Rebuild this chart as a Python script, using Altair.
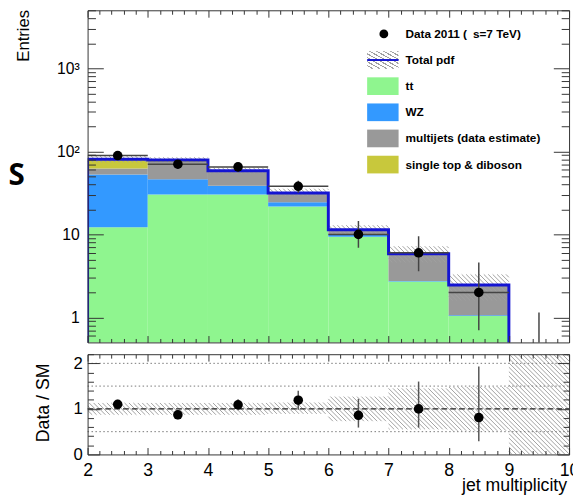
import math
import altair as alt
import pandas as pd

# ---------------- data ----------------
bin_lo = [2, 3, 4, 5, 6, 7, 8, 9]
bin_hi = [3, 4, 5, 6, 7, 8, 9, 10]
bin_mid = [2.5, 3.5, 4.5, 5.5, 6.5, 7.5, 8.5, 9.5]

components = ["tt", "WZ", "multijets (data estimate)", "single top & diboson"]
comp_colors = ["#8ff58f", "#3399ff", "#999999", "#c8c83c"]
tt = [12.2, 30.2, 30.2, 21.7, 9.4, 2.7, 1.04, 0]
wz = [40.6, 16.1, 8.3, 2.7, 0.7, 0.05, 0.02, 0]
multijets = [9.6, 28.0, 18.4, 6.3, 1.0, 3.0, 1.38, 0]
single_top = [18.0, 4.5, 1.5, 0.8, 0.3, 0.1, 0.02, 0]

data = [89, 70, 65, 38, 10, 6, 2, 0]
data_lo = [79.6, 61.6, 56.9, 31.8, 6.9, 3.6, 0.7, 0]
data_hi = [98.4, 78.4, 73.1, 44.2, 14.5, 9.5, 4.6, 1.15]

band_lo = [74, 74, 54, 29, 10.1, 4.6, 1.6]
band_hi = [88, 85, 64, 35.5, 12.9, 7.2, 3.3]

ratio = [1.10, 0.87, 1.09, 1.19, 0.86, 1.00, 0.81]
ratio_lo = [1.00, 0.77, 0.97, 0.98, 0.59, 0.59, 0.29]
ratio_hi = [1.20, 0.97, 1.21, 1.40, 1.22, 1.60, 1.93]
rband_lo = [0.87, 0.87, 0.87, 0.89, 0.73, 0.55, 0.52, 0.0]
rband_hi = [1.13, 1.13, 1.13, 1.14, 1.27, 1.45, 1.48, 2.2]
ratio_dotted = [0.5, 1.5, 2.0]
ratio_dashed = [1.0]

legend_labels = ["Data 2011 (\u2002s=7 TeV)", "Total pdf", "tt", "WZ",
                 "multijets (data estimate)", "single top & diboson"]

x_major = [2, 3, 4, 5, 6, 7, 8, 9, 10]
x_minor = [round(2 + 0.2 * i, 1) for i in range(41) if i % 5]
y_major = [1, 10, 100, 1000]
y_minor = [0.6, 0.7, 0.8, 0.9] + [m * d for d in (1, 10, 100) for m in range(2, 10)] + [2000, 3000, 4000, 5000]
r_major = [0, 1, 2]
r_minor = [0.2, 0.4, 0.6, 0.8, 1.2, 1.4, 1.6, 1.8, 2.2]

# ---------------- style ----------------
FLOOR = 0.1
FRAME = "#333333"
BLUE = "#1414d2"
HATCH = "#a0a0a0"
FONT = "Liberation Sans"
W, H1, H2 = 490, 338, 102
X0, X1 = 2, 10
Y0, Y1 = 0.5, 5000
R0, R1 = 0, 2.2
HATCH_STEP = 4.5

xs = alt.Scale(domain=[X0, X1], nice=False, zero=False)
ys = alt.Scale(type="log", domain=[Y0, Y1], nice=False)
rs = alt.Scale(domain=[R0, R1], nice=False, zero=False)


def hatch_gradient(n, color=HATCH, duty=0.3):
    stops = []
    for k in range(n):
        a, b, c = k / n, (k + 1 - duty) / n, (k + 1) / n
        stops += [{"offset": a, "color": "rgba(255,255,255,0)"},
                  {"offset": b, "color": "rgba(255,255,255,0)"},
                  {"offset": b, "color": color},
                  {"offset": c, "color": color}]
    return {"gradient": "linear", "x1": 0, "y1": 1, "x2": 1, "y2": 0, "stops": stops}


def hatch_segments(rects, v_of, y_of):
    """Diagonal hatch lines (top-left to bottom-right) clipped to each band rectangle."""
    u_of = lambda x: (x - X0) / (X1 - X0) * W
    x_of = lambda u: X0 + u / W * (X1 - X0)
    out = []
    for (xa, xb, ya, yb) in rects:
        u0, u1, v0, v1 = u_of(xa), u_of(xb), v_of(ya), v_of(yb)
        k0 = math.ceil((u0 + v0) / HATCH_STEP)
        k1 = math.floor((u1 + v1) / HATCH_STEP)
        for k in range(k0, k1 + 1):
            c = k * HATCH_STEP
            ua, ub = max(u0, c - v1), min(u1, c - v0)
            if ub - ua > 0.3:
                out.append({"xa": x_of(ua), "ya": y_of(c - ua), "xb": x_of(ub), "yb": y_of(c - ub)})
    return pd.DataFrame(out)


def tick_axis(orient, values, size, labels=False, domain=False, title=None, **kw):
    return alt.Axis(orient=orient, values=values, tickSize=alt.ExprRef(expr=str(-size)),
                    ticks=True, labels=labels, domain=domain, domainColor=FRAME,
                    domainWidth=1, tickColor=FRAME, tickWidth=1, grid=False, zindex=1,
                    title=title, **kw)


dummy = pd.DataFrame({"x": [2.0], "y": [1.0]})


def axis_layer(x_axis, y_axis, yscale):
    return alt.Chart(dummy).mark_point(opacity=0).encode(
        x=alt.X("x:Q", scale=xs, axis=x_axis),
        y=alt.Y("y:Q", scale=yscale, axis=y_axis),
    )


# ---------------- tables ----------------
rows = []
total = []
for i in range(len(bin_lo)):
    cum = 0.0
    for name, vals in zip(components, [tt, wz, multijets, single_top]):
        v = vals[i]
        if v <= 0:
            continue
        y0 = cum if cum > 0 else FLOOR
        cum += v
        rows.append({"lo": bin_lo[i], "hi": bin_hi[i], "y0": y0, "y1": cum, "comp": name})
    total.append(cum)
stack_df = pd.DataFrame(rows)

line_pts = [(2, FLOOR)] + [(bin_lo[i], total[i]) for i in range(7)] + [(9, FLOOR)]
line_df = pd.DataFrame({"x": [p[0] for p in line_pts], "y": [p[1] for p in line_pts],
                        "i": list(range(len(line_pts)))})

lg0, lg1 = math.log10(Y0), math.log10(Y1)
band_hatch_df = hatch_segments(
    list(zip(bin_lo[:7], bin_hi[:7], band_lo, band_hi)),
    lambda y: (math.log10(y) - lg0) / (lg1 - lg0) * H1,
    lambda v: 10 ** (lg0 + v / H1 * (lg1 - lg0)))
rband_hatch_df = hatch_segments(
    list(zip(bin_lo, bin_hi, rband_lo, rband_hi)),
    lambda y: (y - R0) / (R1 - R0) * H2,
    lambda v: R0 + v / H2 * (R1 - R0))

err_df = pd.DataFrame({"mid": bin_mid, "e0": [max(v, FLOOR) for v in data_lo], "e1": data_hi})
pts_df = pd.DataFrame({"mid": bin_mid[:7], "lo": bin_lo[:7], "hi": bin_hi[:7], "v": data[:7]})
ratio_df = pd.DataFrame({"mid": bin_mid[:7], "r": ratio, "r0": ratio_lo, "r1": ratio_hi})

legend_df = pd.DataFrame({"label": legend_labels, "row": list(range(6)),
                          "comp": ["", ""] + components})

# ---------------- top panel ----------------
fills = alt.Chart(stack_df).mark_rect(clip=True, strokeWidth=0).encode(
    x=alt.X("lo:Q", scale=xs, axis=None), x2="hi:Q",
    y=alt.Y("y0:Q", scale=ys, axis=None), y2="y1:Q",
    color=alt.Color("comp:N", scale=alt.Scale(domain=components, range=comp_colors), legend=None),
)
band = alt.Chart(band_hatch_df).mark_rule(clip=True, color=HATCH, strokeWidth=1).encode(
    x=alt.X("xa:Q", scale=xs, axis=None), x2="xb:Q",
    y=alt.Y("ya:Q", scale=ys, axis=None), y2="yb:Q",
)
tline = alt.Chart(line_df).mark_line(interpolate="step-after", clip=True, color=BLUE,
                                     strokeWidth=3, strokeJoin="miter").encode(
    x=alt.X("x:Q", scale=xs, axis=None),
    y=alt.Y("y:Q", scale=ys, axis=None),
    order="i:Q",
)
xerr = alt.Chart(pts_df).mark_rule(clip=True, color="#444444", strokeWidth=1.5).encode(
    x=alt.X("lo:Q", scale=xs, axis=None), x2="hi:Q",
    y=alt.Y("v:Q", scale=ys, axis=None),
)
yerr = alt.Chart(err_df).mark_rule(clip=True, color="#444444", strokeWidth=1.5).encode(
    x=alt.X("mid:Q", scale=xs, axis=None),
    y=alt.Y("e0:Q", scale=ys, axis=None), y2="e1:Q",
)
dpts = alt.Chart(pts_df).mark_circle(clip=True, size=95, color="black", opacity=1).encode(
    x=alt.X("mid:Q", scale=xs, axis=None),
    y=alt.Y("v:Q", scale=ys, axis=None),
)

log_labels = "datum.value >= 1000 ? '10\u00b3' : datum.value >= 100 ? '10\u00b2' : datum.value >= 10 ? '10' : '1'"
t_ax1 = axis_layer(
    tick_axis("bottom", x_major, 7, domain=True),
    tick_axis("left", y_major, 16, labels=True, domain=True, labelExpr=log_labels,
              labelFontSize=16, labelPadding=24.5, title="Entries", titleX=-73.5, titleY=-1,
              titleAngle=270, titleAlign="right", titleBaseline="top", titleFontSize=17),
    ys)
t_ax2 = axis_layer(tick_axis("bottom", x_minor, 4), tick_axis("left", y_minor, 8), ys)
t_ax3 = axis_layer(tick_axis("top", x_major, 7, domain=True),
                   tick_axis("right", y_major, 16, domain=True), ys)
t_ax4 = axis_layer(tick_axis("top", x_minor, 4), tick_axis("right", y_minor, 8), ys)

top_inner = alt.layer(fills, band, tline, xerr, yerr, dpts, t_ax1, t_ax2, t_ax3, t_ax4).resolve_axis(
    x="independent", y="independent")

ly = alt.Y("row:O", scale=alt.Scale(type="point", domain=list(range(6)), range=[24, 157], padding=0),
           axis=None)
rect_path = "M-1,-0.5625L1,-0.5625L1,0.5625L-1,0.5625Z"
LX = 300.5
leg_base = alt.Chart(legend_df)
leg_boxes = leg_base.transform_filter(alt.datum.row >= 2).mark_point(
    shape=rect_path, size=1024, filled=True, opacity=1, strokeWidth=0).encode(
    x=alt.value(LX), y=ly,
    color=alt.Color("comp:N", scale=alt.Scale(domain=components, range=comp_colors), legend=None),
)
leg_hatch = leg_base.transform_filter(alt.datum.row == 1).mark_point(
    shape=rect_path, size=1024, filled=True, opacity=1, strokeWidth=0, fill=hatch_gradient(9)).encode(
    x=alt.value(LX), y=ly)
leg_line = leg_base.transform_filter(alt.datum.row == 1).mark_rule(color=BLUE, strokeWidth=2).encode(
    x=alt.value(LX - 16), x2=alt.value(LX + 16), y=ly)
leg_dot = leg_base.transform_filter(alt.datum.row == 0).mark_circle(size=80, color="black", opacity=1).encode(
    x=alt.value(LX + 1), y=ly)
leg_text = leg_base.mark_text(align="left", baseline="middle", font=FONT, fontSize=12,
                              fontWeight="bold", color="black").encode(
    x=alt.value(LX + 23), y=ly, text="label:N")
legend = alt.layer(leg_boxes, leg_hatch, leg_line, leg_dot, leg_text)

s_text = alt.Chart(pd.DataFrame({"t": ["S"]})).mark_text(
    align="left", baseline="alphabetic", font="Open Sans", fontSize=30, fontWeight="bold",
    color="black").encode(x=alt.value(-80.5), y=alt.value(178), text="t:N")

top = alt.layer(top_inner, legend, s_text).resolve_scale(y="independent").properties(width=W, height=H1)

# ---------------- ratio panel ----------------
rband = alt.Chart(rband_hatch_df).mark_rule(clip=True, color=HATCH, strokeWidth=1).encode(
    x=alt.X("xa:Q", scale=xs, axis=None), x2="xb:Q",
    y=alt.Y("ya:Q", scale=rs, axis=None), y2="yb:Q",
)
dotted = alt.Chart(pd.DataFrame({"y": ratio_dotted})).mark_rule(
    color="#777777", strokeWidth=1, strokeDash=[1.5, 2.5]).encode(
    x=alt.X(datum=2, scale=xs, axis=None), x2=alt.X2(datum=10),
    y=alt.Y("y:Q", scale=rs, axis=None))
dashed = alt.Chart(pd.DataFrame({"y": ratio_dashed})).mark_rule(
    color="#222222", strokeWidth=1.2, strokeDash=[6, 3]).encode(
    x=alt.X(datum=2, scale=xs, axis=None), x2=alt.X2(datum=10),
    y=alt.Y("y:Q", scale=rs, axis=None))
rerr = alt.Chart(ratio_df).mark_rule(color="#555555", strokeWidth=1.5).encode(
    x=alt.X("mid:Q", scale=xs, axis=None),
    y=alt.Y("r0:Q", scale=rs, axis=None), y2="r1:Q")
rpts = alt.Chart(ratio_df).mark_circle(size=95, color="black", opacity=1).encode(
    x=alt.X("mid:Q", scale=xs, axis=None),
    y=alt.Y("r:Q", scale=rs, axis=None))

r_ax1 = axis_layer(
    tick_axis("bottom", x_major, 7, labels=True, domain=True, labelFontSize=18, labelPadding=14,
              labelFlush=False, title="jet multiplicity", titleX=487.5, titleY=37, titleAngle=0,
              titleAlign="right", titleBaseline="alphabetic", titleFontSize=18),
    tick_axis("left", r_major, 12, labels=True, domain=True, labelFontSize=17, labelPadding=17.5,
              title="Data / SM", titleX=-53.5, titleY=49, titleAngle=270, titleAlign="center",
              titleBaseline="top", titleFontSize=18),
    rs)
r_ax2 = axis_layer(tick_axis("bottom", x_minor, 4), tick_axis("left", r_minor, 6), rs)
r_ax3 = axis_layer(tick_axis("top", x_major, 7, domain=True),
                   tick_axis("right", r_major, 12, domain=True), rs)
r_ax4 = axis_layer(tick_axis("top", x_minor, 4), tick_axis("right", r_minor, 6), rs)

bottom = alt.layer(rband, dotted, dashed, rerr, rpts, r_ax1, r_ax2, r_ax3, r_ax4).resolve_axis(
    x="independent", y="independent").properties(width=W, height=H2)

chart = alt.vconcat(top, bottom, spacing=12, bounds="flush").properties(
    padding={"left": 0, "top": -3, "right": -7, "bottom": 0}
).configure(font=FONT).configure_view(stroke=None).configure_axis(
    labelFont=FONT, titleFont=FONT, labelColor="black", titleColor="black",
    titleFontWeight="normal", grid=False)

chart.save("out.html", embed_options={"renderer": "svg", "actions": False})
